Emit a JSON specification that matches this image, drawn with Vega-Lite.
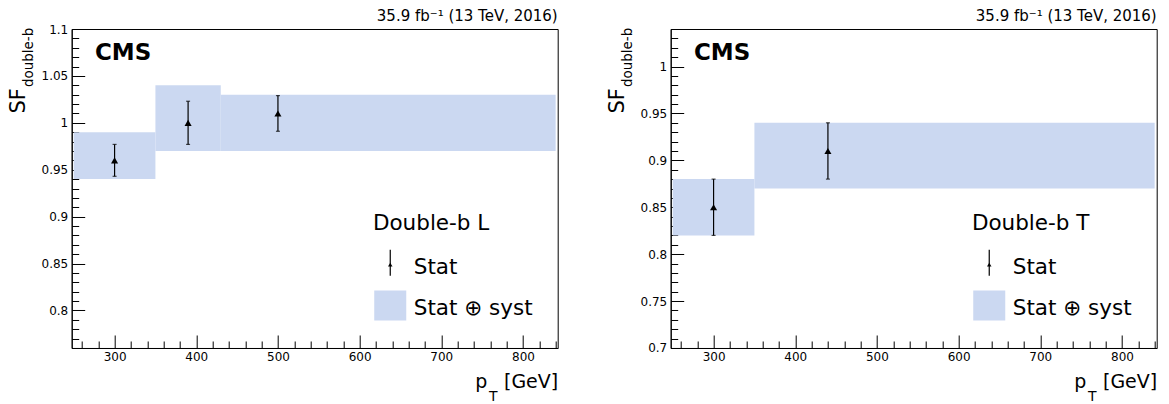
{
  "$schema": "https://vega.github.io/schema/vega-lite/v6.json",
  "background": "white",
  "padding": {"left": 6.7, "top": 8, "right": 5, "bottom": 0},
  "spacing": 47,
  "datasets": {
    "bandsL": [
      {"pt_lo": 250, "pt_hi": 350, "sf_lo": 0.94, "sf_hi": 0.99},
      {"pt_lo": 350, "pt_hi": 430, "sf_lo": 0.97, "sf_hi": 1.04},
      {"pt_lo": 430, "pt_hi": 840, "sf_lo": 0.97, "sf_hi": 1.03}
    ],
    "pointsL": [
      {"pt": 300, "sf": 0.96, "lo": 0.943, "hi": 0.977},
      {"pt": 390, "sf": 1.0, "lo": 0.977, "hi": 1.023},
      {"pt": 500, "sf": 1.01, "lo": 0.991, "hi": 1.029}
    ],
    "bandsR": [
      {"pt_lo": 250, "pt_hi": 350, "sf_lo": 0.82, "sf_hi": 0.88},
      {"pt_lo": 350, "pt_hi": 840, "sf_lo": 0.87, "sf_hi": 0.94}
    ],
    "pointsR": [
      {"pt": 300, "sf": 0.85, "lo": 0.82, "hi": 0.88},
      {"pt": 440, "sf": 0.91, "lo": 0.88, "hi": 0.94}
    ],
    "one": [{}]
  },
  "hconcat": [
    {
      "width": 486,
      "height": 319,
      "title": {"text": "35.9 fb⁻¹ (13 TeV, 2016)", "anchor": "end", "frame": "group", "fontSize": 15, "fontWeight": "normal", "font": "DejaVu Sans", "color": "black", "offset": -0.7},
      "layer": [
        {
          "data": {"name": "bandsL"},
          "mark": {"type": "rect", "fill": "#cbd8f1"},
          "encoding": {
            "x": {"field": "pt_lo", "type": "quantitative", "scale": {"domain": [247.5, 842.5], "nice": false, "zero": false},
              "axis": {"title": "[GeV]", "titleFontSize": 19, "titleAlign": "right", "titleBaseline": "alphabetic", "titleX": 486, "titleY": 39.7,
                "tickCount": 30, "tickSize": {"condition": {"test": "datum.value % 100 == 0", "value": -13}, "value": -7},
                "labelPadding": 17,
                "labelExpr": "datum.value % 100 == 0 ? datum.label : ''"}},
            "x2": {"field": "pt_hi"},
            "y": {"field": "sf_lo", "type": "quantitative", "scale": {"domain": [0.76, 1.1], "nice": false, "zero": false},
              "axis": {"title": "SF", "titleFontSize": 21, "titleAngle": 270, "titleAlign": "right", "titleBaseline": "alphabetic", "titleX": -46.7, "titleY": 58.7,
                "tickCount": 34, "tickSize": {"condition": {"test": "abs(datum.value*20 - round(datum.value*20)) < 0.001", "value": -13}, "value": -7},
                "labelPadding": 17,
                "labelExpr": "abs(datum.value*20 - round(datum.value*20)) < 0.001 ? '' + round(datum.value*100)/100 : ''"}},
            "y2": {"field": "sf_hi"}
          }
        },
        {
          "data": {"name": "pointsL"},
          "mark": {"type": "rule", "color": "black", "strokeWidth": 1.2},
          "encoding": {"x": {"field": "pt", "type": "quantitative"}, "y": {"field": "lo", "type": "quantitative"}, "y2": {"field": "hi"}}
        },
        {
          "data": {"name": "pointsL"},
          "mark": {"type": "tick", "orient": "horizontal", "size": 4, "thickness": 1.2, "color": "black"},
          "encoding": {"x": {"field": "pt", "type": "quantitative"}, "y": {"field": "lo", "type": "quantitative"}}
        },
        {
          "data": {"name": "pointsL"},
          "mark": {"type": "tick", "orient": "horizontal", "size": 4, "thickness": 1.2, "color": "black"},
          "encoding": {"x": {"field": "pt", "type": "quantitative"}, "y": {"field": "hi", "type": "quantitative"}}
        },
        {
          "data": {"name": "pointsL"},
          "mark": {"type": "point", "shape": "triangle-up", "filled": true, "color": "black", "opacity": 1, "size": 50},
          "encoding": {"x": {"field": "pt", "type": "quantitative"}, "y": {"field": "sf", "type": "quantitative"}}
        },
        {
          "data": {"name": "one"},
          "mark": {"type": "text", "text": "CMS", "font": "DejaVu Sans", "fontWeight": "bold", "fontSize": 23, "align": "left", "baseline": "alphabetic", "color": "black"},
          "encoding": {"x": {"datum": 276, "type": "quantitative"}, "y": {"datum": 1.0673, "type": "quantitative"}}
        },
        {
          "data": {"name": "one"},
          "mark": {"type": "text", "text": "Double-b L", "font": "DejaVu Sans", "fontSize": 21.5, "align": "left", "baseline": "alphabetic", "color": "black"},
          "encoding": {"x": {"datum": 616.3, "type": "quantitative"}, "y": {"datum": 0.8861, "type": "quantitative"}}
        },
        {
          "data": {"name": "one"},
          "mark": {"type": "text", "text": "Stat", "font": "DejaVu Sans", "fontSize": 21.5, "align": "left", "baseline": "alphabetic", "color": "black"},
          "encoding": {"x": {"datum": 666.3, "type": "quantitative"}, "y": {"datum": 0.8392, "type": "quantitative"}}
        },
        {
          "data": {"name": "one"},
          "mark": {"type": "text", "text": "Stat ⊕ syst", "font": "DejaVu Sans", "fontSize": 21.5, "align": "left", "baseline": "alphabetic", "color": "black"},
          "encoding": {"x": {"datum": 666.3, "type": "quantitative"}, "y": {"datum": 0.7955, "type": "quantitative"}}
        },
        {
          "data": {"name": "one"},
          "mark": {"type": "rule", "color": "black", "strokeWidth": 1.2},
          "encoding": {"x": {"datum": 637.5, "type": "quantitative"}, "y": {"datum": 0.837, "type": "quantitative"}, "y2": {"datum": 0.8648}}
        },
        {
          "data": {"name": "one"},
          "mark": {"type": "point", "shape": "triangle-up", "filled": true, "color": "black", "opacity": 1, "size": 20},
          "encoding": {"x": {"datum": 637.5, "type": "quantitative"}, "y": {"datum": 0.8488, "type": "quantitative"}}
        },
        {
          "data": {"name": "one"},
          "mark": {"type": "rect", "fill": "#cbd8f1"},
          "encoding": {"x": {"datum": 617.9, "type": "quantitative"}, "x2": {"datum": 657.1}, "y": {"datum": 0.7894, "type": "quantitative"}, "y2": {"datum": 0.8214}}
        },
        {
          "data": {"name": "one"},
          "mark": {"type": "text", "text": "double-b", "font": "DejaVu Sans", "fontSize": 13.5, "angle": 270, "align": "right", "baseline": "alphabetic", "dx": 1.3, "dy": -38.7, "color": "black"},
          "encoding": {"x": {"datum": 247.5, "type": "quantitative"}, "y": {"datum": 1.1, "type": "quantitative"}}
        },
        {
          "data": {"name": "one"},
          "mark": {"type": "text", "text": "p", "font": "DejaVu Sans", "fontSize": 19, "align": "right", "baseline": "alphabetic", "dx": -70.3, "dy": 39.7, "color": "black"},
          "encoding": {"x": {"datum": 842.5, "type": "quantitative"}, "y": {"datum": 0.76, "type": "quantitative"}}
        },
        {
          "data": {"name": "one"},
          "mark": {"type": "text", "text": "T", "font": "DejaVu Sans", "fontSize": 14, "align": "left", "baseline": "alphabetic", "dx": -68.8, "dy": 53, "color": "black"},
          "encoding": {"x": {"datum": 842.5, "type": "quantitative"}, "y": {"datum": 0.76, "type": "quantitative"}}
        }
      ]
    },
    {
      "width": 486,
      "height": 319,
      "title": {"text": "35.9 fb⁻¹ (13 TeV, 2016)", "anchor": "end", "frame": "group", "fontSize": 15, "fontWeight": "normal", "font": "DejaVu Sans", "color": "black", "offset": -0.7},
      "layer": [
        {
          "data": {"name": "bandsR"},
          "mark": {"type": "rect", "fill": "#cbd8f1"},
          "encoding": {
            "x": {"field": "pt_lo", "type": "quantitative", "scale": {"domain": [247.5, 842.5], "nice": false, "zero": false},
              "axis": {"title": "[GeV]", "titleFontSize": 19, "titleAlign": "right", "titleBaseline": "alphabetic", "titleX": 486, "titleY": 39.7,
                "tickCount": 30, "tickSize": {"condition": {"test": "datum.value % 100 == 0", "value": -13}, "value": -7},
                "labelPadding": 17,
                "labelExpr": "datum.value % 100 == 0 ? datum.label : ''"}},
            "x2": {"field": "pt_hi"},
            "y": {"field": "sf_lo", "type": "quantitative", "scale": {"domain": [0.7, 1.04], "nice": false, "zero": false},
              "axis": {"title": "SF", "titleFontSize": 21, "titleAngle": 270, "titleAlign": "right", "titleBaseline": "alphabetic", "titleX": -46.7, "titleY": 58.7,
                "tickCount": 34, "tickSize": {"condition": {"test": "abs(datum.value*20 - round(datum.value*20)) < 0.001", "value": -13}, "value": -7},
                "labelPadding": 17,
                "labelExpr": "abs(datum.value*20 - round(datum.value*20)) < 0.001 ? '' + round(datum.value*100)/100 : ''"}},
            "y2": {"field": "sf_hi"}
          }
        },
        {
          "data": {"name": "pointsR"},
          "mark": {"type": "rule", "color": "black", "strokeWidth": 1.2},
          "encoding": {"x": {"field": "pt", "type": "quantitative"}, "y": {"field": "lo", "type": "quantitative"}, "y2": {"field": "hi"}}
        },
        {
          "data": {"name": "pointsR"},
          "mark": {"type": "tick", "orient": "horizontal", "size": 4, "thickness": 1.2, "color": "black"},
          "encoding": {"x": {"field": "pt", "type": "quantitative"}, "y": {"field": "lo", "type": "quantitative"}}
        },
        {
          "data": {"name": "pointsR"},
          "mark": {"type": "tick", "orient": "horizontal", "size": 4, "thickness": 1.2, "color": "black"},
          "encoding": {"x": {"field": "pt", "type": "quantitative"}, "y": {"field": "hi", "type": "quantitative"}}
        },
        {
          "data": {"name": "pointsR"},
          "mark": {"type": "point", "shape": "triangle-up", "filled": true, "color": "black", "opacity": 1, "size": 50},
          "encoding": {"x": {"field": "pt", "type": "quantitative"}, "y": {"field": "sf", "type": "quantitative"}}
        },
        {
          "data": {"name": "one"},
          "mark": {"type": "text", "text": "CMS", "font": "DejaVu Sans", "fontWeight": "bold", "fontSize": 23, "align": "left", "baseline": "alphabetic", "color": "black"},
          "encoding": {"x": {"datum": 276, "type": "quantitative"}, "y": {"datum": 1.0073, "type": "quantitative"}}
        },
        {
          "data": {"name": "one"},
          "mark": {"type": "text", "text": "Double-b T", "font": "DejaVu Sans", "fontSize": 21.5, "align": "left", "baseline": "alphabetic", "color": "black"},
          "encoding": {"x": {"datum": 616.3, "type": "quantitative"}, "y": {"datum": 0.8261, "type": "quantitative"}}
        },
        {
          "data": {"name": "one"},
          "mark": {"type": "text", "text": "Stat", "font": "DejaVu Sans", "fontSize": 21.5, "align": "left", "baseline": "alphabetic", "color": "black"},
          "encoding": {"x": {"datum": 666.3, "type": "quantitative"}, "y": {"datum": 0.7792, "type": "quantitative"}}
        },
        {
          "data": {"name": "one"},
          "mark": {"type": "text", "text": "Stat ⊕ syst", "font": "DejaVu Sans", "fontSize": 21.5, "align": "left", "baseline": "alphabetic", "color": "black"},
          "encoding": {"x": {"datum": 666.3, "type": "quantitative"}, "y": {"datum": 0.7355, "type": "quantitative"}}
        },
        {
          "data": {"name": "one"},
          "mark": {"type": "rule", "color": "black", "strokeWidth": 1.2},
          "encoding": {"x": {"datum": 637.5, "type": "quantitative"}, "y": {"datum": 0.777, "type": "quantitative"}, "y2": {"datum": 0.8048}}
        },
        {
          "data": {"name": "one"},
          "mark": {"type": "point", "shape": "triangle-up", "filled": true, "color": "black", "opacity": 1, "size": 20},
          "encoding": {"x": {"datum": 637.5, "type": "quantitative"}, "y": {"datum": 0.7888, "type": "quantitative"}}
        },
        {
          "data": {"name": "one"},
          "mark": {"type": "rect", "fill": "#cbd8f1"},
          "encoding": {"x": {"datum": 617.9, "type": "quantitative"}, "x2": {"datum": 657.1}, "y": {"datum": 0.7294, "type": "quantitative"}, "y2": {"datum": 0.7614}}
        },
        {
          "data": {"name": "one"},
          "mark": {"type": "text", "text": "double-b", "font": "DejaVu Sans", "fontSize": 13.5, "angle": 270, "align": "right", "baseline": "alphabetic", "dx": 1.3, "dy": -38.7, "color": "black"},
          "encoding": {"x": {"datum": 247.5, "type": "quantitative"}, "y": {"datum": 1.04, "type": "quantitative"}}
        },
        {
          "data": {"name": "one"},
          "mark": {"type": "text", "text": "p", "font": "DejaVu Sans", "fontSize": 19, "align": "right", "baseline": "alphabetic", "dx": -70.3, "dy": 39.7, "color": "black"},
          "encoding": {"x": {"datum": 842.5, "type": "quantitative"}, "y": {"datum": 0.7, "type": "quantitative"}}
        },
        {
          "data": {"name": "one"},
          "mark": {"type": "text", "text": "T", "font": "DejaVu Sans", "fontSize": 14, "align": "left", "baseline": "alphabetic", "dx": -68.8, "dy": 53, "color": "black"},
          "encoding": {"x": {"datum": 842.5, "type": "quantitative"}, "y": {"datum": 0.7, "type": "quantitative"}}
        }
      ]
    }
  ],
  "config": {
    "font": "DejaVu Sans",
    "view": {"stroke": "black", "strokeWidth": 1},
    "axis": {
      "grid": false,
      "domainColor": "black",
      "domainWidth": 1,
      "tickColor": "black",
      "tickWidth": 1,
      "labelFont": "DejaVu Sans",
      "labelFontSize": 12,
      "labelColor": "black",
      "labelOverlap": false,
      "labelFlush": false,
      "titleFont": "DejaVu Sans",
      "titleFontWeight": "normal",
      "titleColor": "black"
    }
  }
}
